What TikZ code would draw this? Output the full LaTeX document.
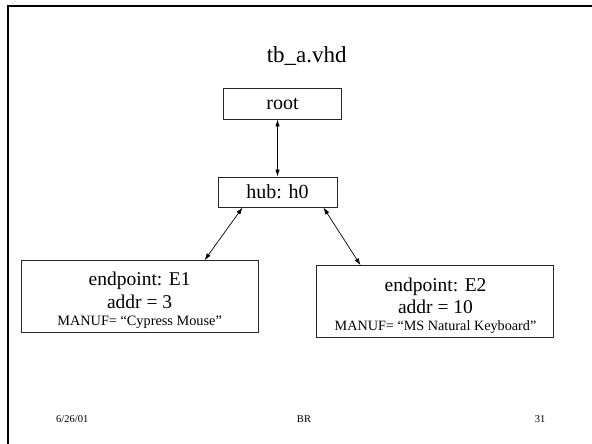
\documentclass[tikz,border=0pt]{standalone}
\usepackage{fontspec}
\setmainfont{Liberation Serif}
\usetikzlibrary{arrows.meta}
\begin{document}
\begin{tikzpicture}[x=1pt,y=-1pt,
  box/.style={draw=black!85,line width=0.9pt,inner sep=0pt,fill=none},
  lbl/.style={inner sep=0pt,align=center},
  link/.style={draw=black,line width=0.7pt,{Latex[length=7pt,width=4.5pt]}-{Latex[length=7pt,width=4.5pt]}},
  big/.style={font=\fontsize{20}{22}\selectfont},
  foot/.style={font=\fontsize{10.5}{12}\selectfont,inner sep=0pt}]
\useasboundingbox (0,0) rectangle (592,444);
\fill[white] (0,0) rectangle (592,444);
% slide frame
\draw[line width=2.5pt,black] (8,446) -- (8,6) -- (594,6);
% title
\node[inner sep=0pt,anchor=base,font=\fontsize{23}{26}\selectfont] (title) at (306.7,63) {tb\_a.vhd};
% boxes
\node[box,big,minimum width=118pt,minimum height=31pt] (root) at (282.5,103.5) {root};
\node[box,big,minimum width=119pt,minimum height=30pt] (hub) at (277.5,192) {hub: h0};
\node[box,minimum width=236.3pt,minimum height=71.3pt] (E1) at (139.85,296.35) {};
\node[box,minimum width=237pt,minimum height=72pt] (E2) at (434.5,301.7) {};
\node[lbl,font=\fontsize{19.5}{22.3}\selectfont] (E1t) at (139.6,300.3)
  {endpoint: E1\\addr = 3\\[-5pt]{\fontsize{14.3}{17}\selectfont MANUF= “Cypress Mouse”}};
\node[lbl,font=\fontsize{19.5}{22.3}\selectfont] (E2t) at (435.5,305.7)
  {endpoint: E2\\addr = 10\\[-5pt]{\fontsize{14.2}{17}\selectfont MANUF= “MS Natural Keyboard”}};
% connectors
\draw[link] (hub.north) -- (hub.north |- root.south);
\draw[link] ([xshift=25pt]hub.south west) -- ([xshift=183.3pt]E1.north west);
\draw[link] ([xshift=-14pt]hub.south east) -- ([xshift=45pt]E2.north west);
% footer
\node[foot,anchor=base west] (date) at (56,422) {6/26/01};
\node[foot,anchor=base] (author) at (304,422) {BR};
\node[foot,anchor=base east] (page) at (545.5,422) {31};
\end{tikzpicture}
\end{document}
